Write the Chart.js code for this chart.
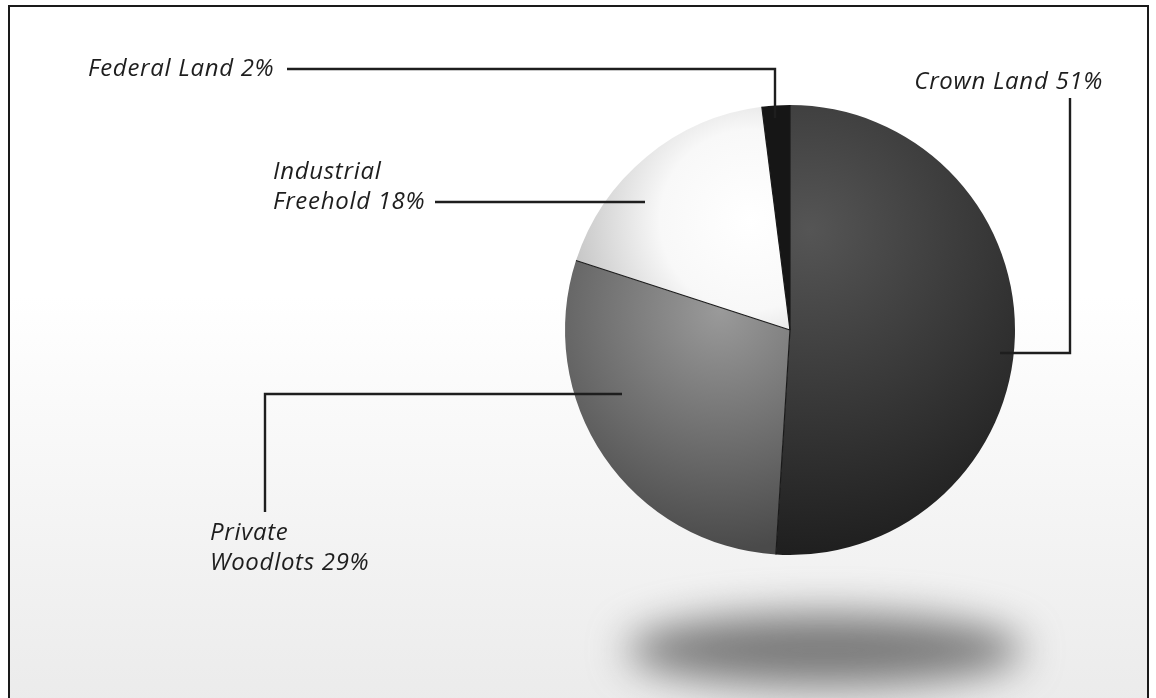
<!DOCTYPE html>
<html>
<head>
    <script src="https://cdn.jsdelivr.net/npm/chart.js@4.4.0/dist/chart.umd.min.js"></script>
    <style>
        body {
            margin: 0;
            padding: 0;
            background: #fff;
        }

        #frame {
            position: absolute;
            left: 8px;
            top: 5px;
            width: 1137px;
            height: 720px;
            border: 2px solid #1a1a1a;
            background: linear-gradient(to bottom, #ffffff 0px, #ffffff 290px, #ebebeb 698px);
        }

        #wrap {
            position: absolute;
            left: 0;
            top: 0;
            width: 1156px;
            height: 698px;
        }
    </style>
</head>
<body>
<div id="frame"></div>
<div id="wrap">
    <canvas id="myChart"></canvas>
</div>

<script>
    const categories = ['Crown Land', 'Private Woodlots', 'Industrial Freehold', 'Federal Land'];
    const shares = [51, 29, 18, 2];
    // label text as printed, split on lines
    const labelLines = [
        ['Crown Land 51%'],
        ['Private', 'Woodlots 29%'],
        ['Industrial', 'Freehold 18%'],
        ['Federal Land 2%']
    ];

    // leader line routes and text anchors (page coords)
    const leaders = [
        {path: [[1070, 98], [1070, 353], [1000, 353]], text: [1103, 82], align: 'right'},
        {path: [[265, 512], [265, 394], [622, 394]], text: [210, 533], align: 'left'},
        {path: [[435, 202], [645, 202]], text: [273, 172], align: 'left'},
        {path: [[287, 69], [775, 69], [775, 118]], text: [88, 69], align: 'left'}
    ];

    function sliceFill(context) {
        const chart = context.chart;
        const area = chart.chartArea;
        if (!area) return '#444';
        const ctx = chart.ctx;
        const cx = (area.left + area.right) / 2;
        const cy = (area.top + area.bottom) / 2;
        let g;
        switch (context.dataIndex) {
            case 0:
                g = ctx.createRadialGradient(cx + 20, cy - 100, 0, cx + 20, cy - 100, 330);
                g.addColorStop(0, '#555555');
                g.addColorStop(1, '#1e1e1e');
                return g;
            case 1:
                g = ctx.createRadialGradient(cx - 70, cy - 20, 0, cx - 70, cy - 20, 240);
                g.addColorStop(0, '#9a9a9a');
                g.addColorStop(1, '#4a4a4a');
                return g;
            case 2:
                g = ctx.createRadialGradient(cx - 40, cy - 110, 0, cx - 40, cy - 110, 200);
                g.addColorStop(0, '#ffffff');
                g.addColorStop(0.45, '#f8f8f8');
                g.addColorStop(1, '#bababa');
                return g;
            default:
                return '#161616';
        }
    }

    const shadowPlugin = {
        id: 'shadow',
        beforeDraw(chart) {
            const area = chart.chartArea;
            const ctx = chart.ctx;
            const cx = (area.left + area.right) / 2;
            ctx.save();
            ctx.filter = 'blur(20px)';
            ctx.fillStyle = 'rgba(110,110,110,0.9)';
            ctx.beginPath();
            ctx.ellipse(cx + 35, area.bottom + 95, 198, 36, 0, 0, Math.PI * 2);
            ctx.fill();
            ctx.restore();
        }
    };

    const leaderPlugin = {
        id: 'leaders',
        afterDatasetsDraw(chart) {
            const ctx = chart.ctx;
            ctx.save();
            // thin dark seams between the slices
            const arcs = chart.getDatasetMeta(0).data;
            ctx.strokeStyle = '#1a1a1a';
            ctx.lineWidth = 1.2;
            arcs.forEach(a => {
                const p = a.getProps(['x', 'y', 'startAngle', 'outerRadius']);
                ctx.beginPath();
                ctx.moveTo(p.x, p.y);
                ctx.lineTo(p.x + Math.cos(p.startAngle) * p.outerRadius, p.y + Math.sin(p.startAngle) * p.outerRadius);
                ctx.stroke();
            });

            ctx.strokeStyle = '#1e1e1e';
            ctx.lineWidth = 2.4;
            ctx.lineJoin = 'miter';
            leaders.forEach((l, i) => {
                ctx.beginPath();
                l.path.forEach((p, j) => j === 0 ? ctx.moveTo(p[0], p[1]) : ctx.lineTo(p[0], p[1]));
                ctx.stroke();
                ctx.fillStyle = '#1e1e1e';
                ctx.font = 'italic 500 24px "Open Sans", "Noto Sans", sans-serif';
                ctx.letterSpacing = '0.7px';
                ctx.textAlign = l.align;
                ctx.textBaseline = 'middle';
                labelLines[i].forEach((line, k) => {
                    ctx.fillText(line, l.text[0], l.text[1] + k * 30);
                });
            });
            ctx.restore();
        }
    };

    const ctx = document.getElementById('myChart').getContext('2d');
    const myChart = new Chart(ctx, {
        type: 'pie',
        data: {
            labels: categories,
            datasets: [{
                data: shares,
                backgroundColor: sliceFill,
                borderWidth: 0
            }]
        },
        options: {
            responsive: true,
            maintainAspectRatio: false,
            animation: false,
            layout: {
                padding: {top: 105, bottom: 143, left: 565, right: 141}
            },
            plugins: {
                legend: {display: false},
                tooltip: {enabled: false}
            }
        },
        plugins: [shadowPlugin, leaderPlugin]
    });
</script>
</body>
</html>
